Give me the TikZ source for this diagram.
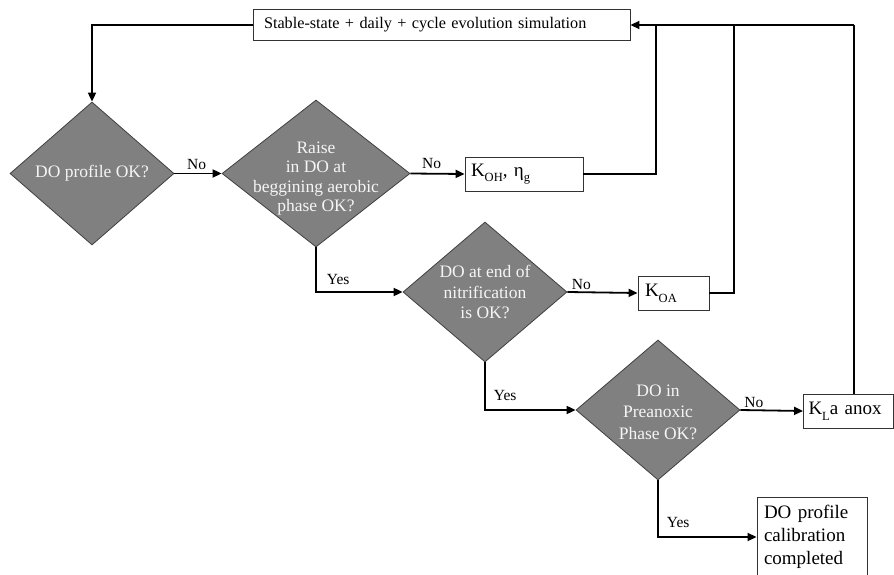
\documentclass[tikz,border=0pt]{standalone}
\usepackage{fontspec}
\setmainfont{Liberation Serif}
\usetikzlibrary{shapes.geometric,arrows.meta}

% lowered subscript used in the parameter boxes
\newcommand\lowsub[1]{\raisebox{-0.3em}{\fontsize{12.5}{13}\selectfont #1}}

\tikzset{
  decision/.style={shape=diamond, draw=black!75, line width=0.8pt, fill=black!50,
    inner sep=0pt, minimum width=#1},
  dtext/.style={text=black!4, align=center, inner sep=0pt,
    font=\fontsize{17.5}{20.5}\selectfont},
  pbox/.style={draw=black!80, line width=0.9pt, fill=white, inner sep=0pt},
  conn/.style={line width=1.8pt, black},
  tip/.style={-{Triangle[length=9pt,width=8pt]}},
  lab/.style={inner sep=0pt, font=\fontsize{15.5}{18}\selectfont},
}

\begin{document}
\begin{tikzpicture}[x=1pt,y=-1pt]
\useasboundingbox (0,0) rectangle (894,575);

% process boxes
\node[pbox, minimum width=377, minimum height=31, text width=355, align=left,
      font=\fontsize{16.2}{19}\selectfont] (top) at (441.5,25)
      {Stable-state + daily + cycle evolution simulation};
\node[pbox, minimum width=118, minimum height=34, text width=106, align=left,
      font=\fontsize{19}{22}\selectfont] (koh) at (524,174)
      {K\lowsub{OH}, η\lowsub{g}};
\node[pbox, minimum width=71, minimum height=34, text width=57, align=left,
      font=\fontsize{19}{22}\selectfont] (koa) at (673.5,293)
      {K\lowsub{OA}};
\node[pbox, minimum width=90, minimum height=34, text width=80, align=left,
      font=\fontsize{19}{22}\selectfont] (kl) at (848.5,411)
      {K\lowsub{L}a anox};
\node[pbox, minimum width=110, minimum height=80, text width=96, align=left,
      font=\fontsize{19}{23}\selectfont] (fin) at (812,537)
      {DO profile\\calibration\\completed};

% decisions
\node[decision=164, minimum height=143] (d1) at (92,173.5) {};
\node[dtext] at (d1) {DO profile OK?};
\node[decision=188, minimum height=147] (d2) at (316,173.5) {};
\node[dtext, font=\fontsize{17.5}{19.5}\selectfont] at ([yshift=-5]d2.center)
      {Raise\\in DO at\\beggining aerobic\\phase OK?};
\node[decision=164, minimum height=140] (d3) at (485,292) {};
\node[dtext] at (d3) {DO at end of\\nitrification\\is OK?};
\node[decision=164, minimum height=140] (d4) at (658,410) {};
\node[dtext, font=\fontsize{17.5}{21.5}\selectfont] at ([yshift=-2]d4.center)
      {DO in\\Preanoxic\\Phase OK?};

% return junctions on the top line
\coordinate (j1) at (656,25);
\coordinate (j2) at (734,25);
\coordinate (j3) at (854,25);

% connectors
\draw[conn, tip] (top.west) -| (d1.north);
\draw[conn, tip] (d1.east) -- node[lab, pos=0.25, anchor=base west, yshift=4] {No} (d2.west);
\draw[conn, tip] (d2.east) -- node[lab, pos=0.2, anchor=base west, yshift=5] {No} (koh.west);
\draw[conn, tip] (d3.east) -- node[lab, pos=0.05, anchor=base west, yshift=3] {No} (koa.west);
\draw[conn, tip] (d4.east) -- node[lab, pos=0.05, anchor=base west, yshift=3] {No} (kl.west);

\draw[conn, tip] (d2.south) |- node[lab, pos=0.5, anchor=base west, xshift=10, yshift=8] {Yes} (d3.west);
\draw[conn, tip] (d3.south) |- node[lab, pos=0.5, anchor=base west, xshift=8, yshift=10] {Yes} (d4.west);
\draw[conn, tip] (d4.south) |- node[lab, pos=0.5, anchor=base west, xshift=8, yshift=10] {Yes} (fin.west);

\draw[conn] (koh.east) -| (j1);
\draw[conn] (koa.east) -| (j2);
\draw[conn] (kl.north -| j3) -- (j3);
\draw[conn, tip] (j3) -- (top.east);
\end{tikzpicture}
\end{document}
